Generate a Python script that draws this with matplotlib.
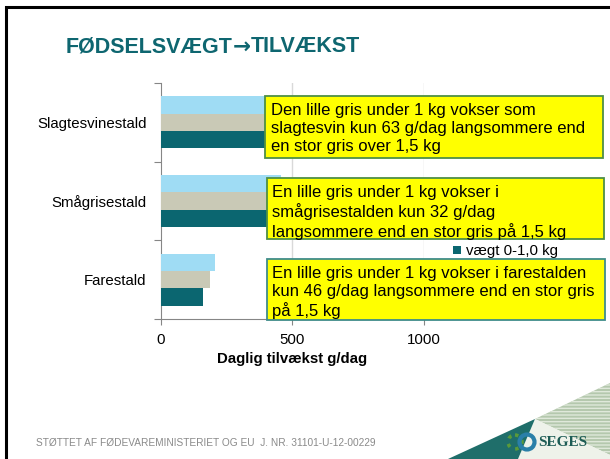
import numpy as np
import matplotlib
matplotlib.use('Agg')
import matplotlib.pyplot as plt
from matplotlib.patches import Rectangle, Polygon, Circle

plt.rcParams['font.family'] = ['Liberation Sans', 'DejaVu Sans']

# data (g/dag)
categories = ['Farestald', 'Smågrisestald', 'Slagtesvinestald']
vaegt_lille = [161, 428, 887]
vaegt_mellem = [189, 445, 920]
vaegt_stor = [207, 460, 950]
series_labels = ['vægt 0-1,0 kg', 'vægt 1,0-1,5 kg', 'vægt over 1,5 kg']
x_ticks = [0, 500, 1000]

notes = ['En lille gris under 1 kg vokser i farestalden\nkun 46 g/dag langsommere end en stor gris\npå 1,5 kg',
         'En lille gris under 1 kg vokser i\nsmågrisestalden kun 32 g/dag\nlangsommere end en stor gris på 1,5 kg',
         'Den lille gris under 1 kg vokser som\nslagtesvin kun 63 g/dag langsommere end\nen stor gris over 1,5 kg']

W, H = 610, 459
fig = plt.figure(figsize=(W / 100, H / 100), dpi=100)

def box(x0, y0, x1, y1):
    # pixel box (top-left origin) -> figure fraction
    return [x0 / W, 1 - y1 / H, (x1 - x0) / W, (y1 - y0) / H]

ax = fig.add_axes(box(160.5, 83, 423.5, 319))
y = np.arange(len(categories))
h = 0.22
teal, tan, light = '#0b6670', '#c9c9b6', '#9fdcf4'
b1 = ax.barh(y - h, vaegt_lille, height=h, color=teal, label=series_labels[0], zorder=3)
ax.barh(y, vaegt_mellem, height=h, color=tan, label=series_labels[1], zorder=3)
ax.barh(y + h, vaegt_stor, height=h, color=light, label=series_labels[2], zorder=3)

ax.set_xlim(0, 1000)
ax.set_ylim(-0.5, len(categories) - 0.5)
ax.set_xticks(x_ticks)
ax.set_xticklabels([str(t) for t in x_ticks], fontsize=10.8)
ax.set_yticks(np.arange(len(categories) + 1) - 0.5)
ax.set_yticklabels([])
ax.set_yticks(y, minor=True)
ax.set_yticklabels(categories, minor=True, fontsize=10.8)
ax.tick_params(axis='y', which='minor', length=0, pad=10)
ax.tick_params(axis='y', which='major', length=5, color='#868686')
ax.tick_params(axis='x', length=4, color='#868686', pad=6)
for t in x_ticks[1:]:
    ax.axvline(t, color='#d9d9d9', lw=1, zorder=1)
for s in ['top', 'right']:
    ax.spines[s].set_visible(False)
for s in ['left', 'bottom']:
    ax.spines[s].set_color('#868686')
ax.set_xlabel('Daglig tilvækst g/dag', fontsize=10.8, fontweight='bold', labelpad=4)

fig.legend(handles=[b1], labels=[series_labels[0]], loc='center left',
           bbox_to_anchor=(453 / W, 1 - 251.5 / H), frameon=False, fontsize=10.8,
           handlelength=0.5, handleheight=0.5, handletextpad=0.4, borderpad=0, borderaxespad=0)

# overlay for slide decoration
deco = fig.add_axes([0, 0, 1, 1])
deco.set_xlim(0, W)
deco.set_ylim(H, 0)
deco.axis('off')
deco.patch.set_alpha(0)

deco.plot([6, 6, W], [H, 7, 7], color='black', lw=2.2, solid_joinstyle='miter')

# title in three pieces so the arrow can come from a font with a bold arrow
title_col = '#0e6670'
renderer = fig.canvas.get_renderer()
tx = 66
for part, fam in [('FØDSELSVÆGT', 'Liberation Sans'), ('→', 'DejaVu Sans'), ('TILVÆKST', 'Liberation Sans')]:
    t = deco.text(tx, 52.5, part, fontsize=15.5, fontweight='bold', color=title_col,
                  va='baseline', ha='left', family=fam)
    tx += t.get_window_extent(renderer).width

note_boxes = [(266.5, 259, 604.5, 320, '#3f8c8a'),
              (266.5, 177.5, 604, 238.5, '#4e8f45'),
              (265, 96, 603, 157.5, '#4e8f45')]
for (x0, y0, x1, y1, ec), txt in zip(note_boxes, notes):
    deco.add_patch(Rectangle((x0, y0), x1 - x0, y1 - y0, facecolor='#ffff00',
                             edgecolor=ec, lw=1.3, zorder=5))
    deco.text(x0 + 5.8, y0 + 7, txt, fontsize=12, va='top', ha='left',
              linespacing=1.24, zorder=6)

deco.text(36, 443, 'STØTTET AF FØDEVAREMINISTERIET OG EU  J. NR. 31101-U-12-00229',
          fontsize=7.3, color='#8a8a8a', va='center', ha='left')

# SEGES logo corner
deco.add_patch(Polygon([(535, 419), (610, 383), (610, 455)], closed=True,
                       facecolor='#b4c8ad', edgecolor='#dfe8da', hatch='-----', lw=0))
deco.add_patch(Polygon([(535, 419), (610, 455), (610, 459), (518, 459)], closed=True,
                       facecolor='#eef2ea', lw=0))
deco.add_patch(Polygon([(448, 459), (535, 419), (518, 459)], closed=True,
                       facecolor='#1f6e6a', lw=0))
deco.add_patch(Circle((515, 442), 7, facecolor='none', edgecolor='#5a9a3a', lw=2.5, ls=':'))
deco.add_patch(Circle((527, 442), 7.5, facecolor='none', edgecolor='#2a7fa8', lw=3))
deco.text(538, 442, 'SEGES', fontsize=11, fontweight='bold', color='#1d5c55',
          family='Liberation Serif', va='center', ha='left')

fig.savefig('out.png', dpi=100)
